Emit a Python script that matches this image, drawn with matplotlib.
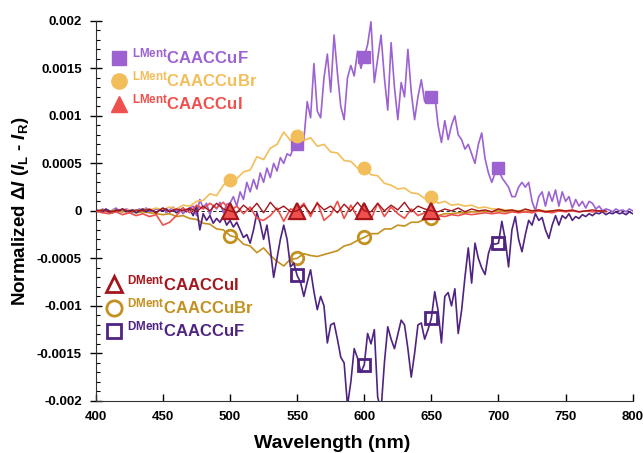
import numpy as np
import matplotlib
matplotlib.use("Agg")
import matplotlib.pyplot as plt
from matplotlib.lines import Line2D

plt.rcParams['font.family'] = ['Liberation Sans', 'DejaVu Sans']
plt.rcParams['mathtext.fontset'] = 'custom'
plt.rcParams['mathtext.rm'] = 'Liberation Sans:bold'
plt.rcParams['mathtext.bf'] = 'Liberation Sans:bold'
plt.rcParams['mathtext.it'] = 'Liberation Sans:italic:bold'
try:
    plt.rcParams['mathtext.bfit'] = 'Liberation Sans:italic:bold'
except KeyError:
    pass

# ---------------- data (values in units of 1e-4) ----------------
wl_F = np.arange(400, 800.1, 2.5)          # 161 points, 2.5 nm step
LF = [  # LMent CAACCuF
    0.1, -0.1, 0.2, 0.0, -0.2, 0.1, 0.3, 0.0, -0.1, 0.2,        # 400
    0.1, -0.2, 0.0, 0.2, 0.1, 0.3, -0.1, 0.0, 0.2, 0.1,         # 425
    0.3, -0.2, 0.1, 0.4, 0.0, 0.2, -0.3, 0.1, 0.3, 0.5,         # 450
    -0.5, 1.2, 0.3, 0.8, -0.4, 0.6, 0.2, 0.9, -0.2, 0.7,        # 475
    0.8, 1.5, 0.5, 2.0, 1.2, 3.0, 2.0, 3.3, 2.3, 4.0,           # 500
    3.0, 4.5, 3.5, 5.0, 4.2, 5.6, 5.0, 6.0, 5.8, 6.8,           # 525
    7.0, 6.5, 7.5, 11.5, 9.8, 15.5, 10.5, 9.8, 14.0, 16.5,      # 550
    12.5, 18.5, 14.5, 11.0, 9.6, 14.0, 15.3, 14.2, 16.8, 15.0,  # 575
    16.2, 17.5, 19.9, 13.5, 16.0, 18.5, 14.0, 10.6, 17.7, 13.0, # 600
    9.6, 13.5, 12.0, 17.0, 12.5, 9.6, 12.0, 13.8, 11.5, 12.5,   # 625
    12.0, 12.2, 9.0, 7.2, 9.5, 7.5, 9.0, 10.0, 8.0, 7.5,        # 650
    6.5, 7.0, 6.0, 5.0, 7.0, 8.2, 5.5, 4.0, 3.0, 4.0,           # 675
    4.5, 3.5, 3.0, 2.5, 1.5, 1.5, 2.5, 3.0, 2.5, 3.0,           # 700
    1.0, 0.0, 1.5, 2.0, 0.5, 2.0, 1.0, 2.2, 0.5, 2.0,           # 725
    1.0, 1.5, 0.3, 1.2, 0.5, 1.0, 0.3, 1.0, 0.8, 0.2,           # 750
    0.5, 0.0, 0.2, 0.1, -0.1, 0.2, 0.0, 0.1, -0.1, 0.2,         # 775
    0.0]                                                         # 800
DF = [  # DMent CAACCuF
    0.1, 0.0, -0.1, 0.2, 0.0, -0.2, 0.1, 0.0, 0.2, -0.1,
    0.0, 0.1, -0.2, 0.0, 0.2, -0.1, 0.1, 0.0, -0.2, 0.1,
    0.0, 0.2, -0.1, 0.1, -0.2, 0.0, 0.3, -0.1, 0.2, -0.5,
    0.5, -2.0, -0.3, -1.0, -0.5, -1.3, -0.8, -1.2, -0.6, -1.5,
    -1.0, -1.7, -1.2, -2.0, -2.8, -2.5, -3.4, -2.0, -0.2, -1.3,
    -3.0, -1.5, -4.0, -7.0, -5.0, -3.0, -1.5, -3.0, -5.9, -5.5,
    -6.8, -7.5, -9.0, -7.5, -6.2, -8.5, -10.4, -9.0, -10.0, -13.9,
    -12.0, -11.8, -13.5, -15.4, -16.0, -20.5, -18.0, -14.5, -15.5, -17.0,
    -16.2, -12.9, -14.0, -12.5, -19.6, -21.0, -16.0, -12.2, -13.5, -14.5,
    -13.0, -11.5, -12.0, -14.5, -17.5, -15.0, -12.0, -11.8, -13.5, -12.5,
    -11.3, -8.5, -10.5, -13.9, -9.0, -8.6, -10.0, -8.2, -12.9, -10.5,
    -7.0, -3.9, -7.6, -3.4, -5.0, -6.0, -6.7, -4.5, -3.4, -3.5,
    -3.4, -1.1, -3.0, -5.9, -2.0, -0.6, -3.0, -4.3, -2.5, -1.0,
    -1.5, -0.3, -1.0, -0.7, -2.0, -2.9, -1.5, -0.5, -1.5, -0.5,
    -0.8, -0.3, -1.0, -0.6, -0.8, -0.4, -0.6, -0.3, -0.5, -0.2,
    -0.3, -0.1, -0.4, -0.2, -0.3, -0.1, -0.3, -0.2, -0.4, -0.1,
    -0.3]

wl_Br = np.arange(400, 750.1, 5)            # 71 points
LBr = [0.0, 0.1, 0.0, 0.1, 0.0, 0.1, 0.0, 0.2, 0.1, 0.3,
       0.1, 0.4, 0.2, 0.6, 0.5, 1.0, 1.1, 1.8, 1.6, 2.7,
       3.3, 3.4, 4.1, 4.3, 5.7, 5.4, 6.6, 7.0, 8.3, 7.4,
       7.9, 7.4, 7.7, 6.8, 7.0, 6.2, 6.1, 5.3, 5.2, 4.5,
       4.5, 3.8, 3.7, 2.9, 2.7, 2.3, 2.4, 1.9, 1.8, 1.3,
       1.5, 0.8, 1.0, 0.6, 0.7, 0.5, 0.6, 0.3, 0.4, 0.2,
       0.2, 0.1, 0.1, 0.0, 0.1, 0.0, 0.1, 0.0, 0.0, 0.1,
       0.0]
DBr = [0.0, -0.1, 0.0, 0.0, -0.1, 0.0, -0.2, -0.1, -0.2, -0.3,
       -0.4, -0.3, -0.6, -0.5, -0.8, -0.9, -1.3, -1.4, -1.9, -2.0,
       -2.6, -2.8, -3.5, -3.7, -4.4, -3.9, -4.7, -5.3, -5.8, -5.1,
       -5.0, -4.5, -4.7, -4.8, -4.6, -4.4, -4.2, -3.7, -3.5, -3.1,
       -2.8, -2.4, -2.4, -1.9, -1.9, -1.5, -1.6, -1.2, -1.2, -0.9,
       -0.7, -0.5, -0.3, -0.3, -0.2, -0.2, -0.1, -0.1, 0.0, -0.1,
       0.0, -0.1, 0.0, 0.0, -0.1, 0.0, 0.0, -0.1, 0.0, 0.0,
       0.0]

wl_I = np.arange(400, 780.1, 5)             # 77 points
LI = [0.0, -0.2, -0.3, -0.1, -0.4, -0.2, -0.5, -0.3, -0.6, -0.4,
      -1.5, -1.2, -0.5, 0.3, -0.2, 0.6, 0.2, 0.8, 0.3, 0.9,
      0.0, 0.5, -0.3, 0.4, -0.8, -1.0, -0.5, 0.3, -1.1, 0.2,
      0.0, 0.8, -0.6, 0.9, -1.0, -0.4, 1.0, -0.8, 0.6, -0.7,
      0.0, -0.9, 0.8, -0.6, 0.4, -0.3, -0.8, 0.2, -0.5, -0.2,
      0.0, -0.5, -0.6, -0.4, -0.5, -0.3, -0.4, -0.3, -0.2, -0.3,
      -0.2, -0.3, -0.1, -0.2, -0.1, -0.2, 0.0, -0.1, -0.2, 0.0,
      -0.1, 0.0, -0.1, 0.0, -0.1, 0.0, -0.1]
DI = [0.0, 0.1, -0.1, 0.0, 0.2, -0.1, 0.1, 0.0, 0.2, -0.2,
      0.3, -0.1, 0.2, 0.0, 0.3, -0.1, 0.5, 0.0, 0.8, 0.2,
      0.0, -0.2, 0.6, 0.0, 0.8, -0.2, 0.9, 0.1, 0.5, -0.1,
      0.0, 0.6, -0.3, 0.8, 0.1, 0.5, -0.2, 0.7, 0.0, 0.9,
      0.0, -0.1, 0.8, 0.0, 0.6, 0.1, 0.9, -0.1, 0.5, 0.2,
      0.0, -0.1, 0.2, 0.0, 0.3, -0.1, 0.2, 0.0, 0.1, -0.1,
      0.2, 0.0, 0.1, -0.1, 0.2, 0.0, 0.1, -0.1, 0.0, 0.1,
      0.0, 0.1, -0.1, 0.0, 0.1, 0.0, 0.0]

mk_F = [550, 600, 650, 700]
mk_Br = [500, 550, 600, 650]
mk_I = [500, 550, 600, 650]

names = ["LMent", "CAACCuF", "CAACCuBr", "CAACCuI", "DMent"]
yticks = [-0.002, -0.0015, -0.001, -0.0005, 0, 0.0005, 0.001, 0.0015, 0.002]
ytick_labels = ["-0.002", "-0.0015", "-0.001", "-0.0005", "0",
                "0.0005", "0.001", "0.0015", "0.002"]
xticks = [400, 450, 500, 550, 600, 650, 700, 750, 800]

# ---------------- colours ----------------
c_LF, c_DF = "#9C62D2", "#4F2381"
c_LBr, c_DBr = "#F2BE5A", "#C4901F"
c_LI, c_DI = "#F0504D", "#A3161B"

fig = plt.figure(figsize=(6.43, 4.53), dpi=100)
ax = fig.add_axes([0.149, 0.115, 0.835, 0.839])

def idx(wl, marks):
    return [int(np.argmin(np.abs(wl - m))) for m in marks]

sc = 1e-4
ax.axhline(0, color="black", lw=0.6, ls=(0, (4, 3)), zorder=1)
ax.plot(wl_F, np.array(LF) * sc, color=c_LF, lw=1.2, zorder=2,
        marker="s", ms=8, mfc=c_LF, mec=c_LF, markevery=idx(wl_F, mk_F))
ax.plot(wl_Br, np.array(LBr) * sc, color=c_LBr, lw=1.2, zorder=3,
        marker="o", ms=9, mfc=c_LBr, mec=c_LBr, markevery=idx(wl_Br, mk_Br))
ax.plot(wl_Br, np.array(DBr) * sc, color=c_DBr, lw=1.2, zorder=3,
        marker="o", ms=9, mfc="none", mec=c_DBr, mew=2, markevery=idx(wl_Br, mk_Br))
ax.plot(wl_F, np.array(DF) * sc, color=c_DF, lw=1.2, zorder=4,
        marker="s", ms=9, mfc="none", mec=c_DF, mew=2, markevery=idx(wl_F, mk_F))
ax.plot(wl_I, np.array(LI) * sc, color=c_LI, lw=1.2, zorder=5,
        marker="^", ms=11, mfc=c_LI, mec=c_LI, markevery=idx(wl_I, mk_I))
ax.plot(wl_I, np.array(DI) * sc, color=c_DI, lw=1.0, zorder=6,
        marker="^", ms=11, mfc="none", mec=c_DI, mew=1.5, markevery=idx(wl_I, mk_I))

ax.set_xlim(400, 800)
ax.set_ylim(-0.002, 0.002)
ax.set_xticks(xticks)
ax.set_xticklabels([str(v) for v in xticks], fontsize=9.5, fontweight="bold")
ax.set_yticks(yticks)
ax.set_yticklabels(ytick_labels, fontsize=9.5, fontweight="bold")
ax.set_yticks(np.arange(-0.002, 0.00201, 0.0001), minor=True)
ax.tick_params(axis="y", which="major", direction="inout", length=8, width=1, pad=6)
ax.tick_params(axis="y", which="minor", direction="in", length=3, width=0.8)
ax.tick_params(axis="x", which="major", direction="in", length=5, width=1, pad=7)
for s in ["top", "right"]:
    ax.spines[s].set_visible(False)
for s in ["left", "bottom"]:
    ax.spines[s].set_color("#333333")

ax.set_xlabel("Wavelength (nm)", fontsize=14, fontweight="bold")
ax.xaxis.set_label_coords(0.44, -0.09)
try:
    ylab = r"Normalized Δ$\mathbfit{I}$ ($\mathbfit{I}_{\mathbf{L}}$ - $\mathbfit{I}_{\mathbf{R}}$)"
    ax.set_ylabel(ylab, fontsize=13.5, fontweight="bold")
    fig.canvas.draw()
except Exception:
    ylab = r"Normalized Δ$\mathit{I}$ ($\mathit{I}_{\mathbf{L}}$ - $\mathit{I}_{\mathbf{R}}$)"
    ax.set_ylabel(ylab, fontsize=13.5, fontweight="bold")
ax.yaxis.set_label_coords(-0.12, 0.5)

def lab(pref, name):
    return r"$^{\mathbf{" + pref + "}}$" + name

h_up = [Line2D([], [], ls="none", marker="s", ms=10, mfc=c_LF, mec=c_LF),
        Line2D([], [], ls="none", marker="o", ms=11, mfc=c_LBr, mec=c_LBr),
        Line2D([], [], ls="none", marker="^", ms=12, mfc=c_LI, mec=c_LI)]
l_up = [lab(names[0], names[1]), lab(names[0], names[2]), lab(names[0], names[3])]
leg1 = ax.legend(h_up, l_up, loc="upper left", bbox_to_anchor=(0.0, 0.972),
                 frameon=False, handlelength=1.0, handletextpad=0.3,
                 labelspacing=0.2, prop={"size": 12, "weight": "bold"})
for t, c in zip(leg1.get_texts(), [c_LF, c_LBr, c_LI]):
    t.set_color(c)
ax.add_artist(leg1)

h_dn = [Line2D([], [], ls="none", marker="^", ms=12, mfc="none", mec=c_DI, mew=2),
        Line2D([], [], ls="none", marker="o", ms=11, mfc="none", mec=c_DBr, mew=2),
        Line2D([], [], ls="none", marker="s", ms=10, mfc="none", mec=c_DF, mew=2)]
l_dn = [lab(names[4], names[3]), lab(names[4], names[2]), lab(names[4], names[1])]
leg2 = ax.legend(h_dn, l_dn, loc="upper left", bbox_to_anchor=(-0.01, 0.375),
                 frameon=False, handlelength=1.0, handletextpad=0.3,
                 labelspacing=0.2, prop={"size": 12, "weight": "bold"})
for t, c in zip(leg2.get_texts(), [c_DI, c_DBr, c_DF]):
    t.set_color(c)

fig.savefig("out.png", dpi=100)
